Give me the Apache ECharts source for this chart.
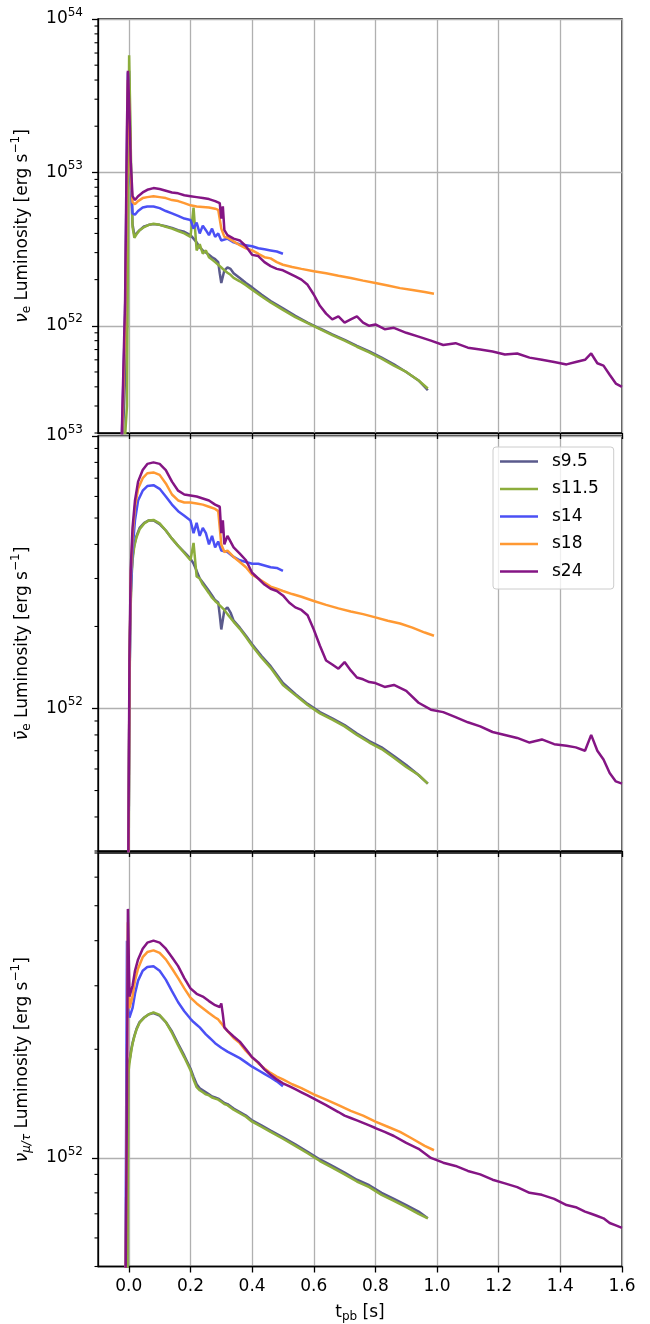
<!DOCTYPE html>
<html>
<head>
<meta charset="utf-8">
<title>Neutrino luminosities</title>
<script src="https://cdn.jsdelivr.net/npm/echarts@6/dist/echarts.min.js"></script>
<style>
  html, body { margin: 0; padding: 0; background: #fff; }
  #chart { width: 650px; height: 1324px; }
</style>
</head>
<body>
<div id="chart"></div>
<script>
// Luminosities are stored in units of 1e52 erg/s; times in s after bounce.
const UNIT = 1e52;

const modelNames = ['s9.5', 's11.5', 's14', 's18', 's24'];
const xTicks = [0, 0.2, 0.4, 0.6, 0.8, 1.0, 1.2, 1.4, 1.6];

// s9.5 and s11.5 share a sampling grid
const tLow = [-0.03, -0.006, -0.002, 0.001, 0.004, 0.008, 0.012, 0.018, 0.025, 0.035, 0.05, 0.065, 0.08, 0.1, 0.12, 0.14, 0.16, 0.18, 0.2, 0.21, 0.22, 0.23, 0.24, 0.25, 0.26, 0.27, 0.28, 0.29, 0.295, 0.3, 0.31, 0.32, 0.33, 0.34, 0.36, 0.38, 0.4, 0.43, 0.46, 0.5, 0.54, 0.58, 0.62, 0.66, 0.7, 0.74, 0.78, 0.82, 0.86, 0.9, 0.94, 0.97];
const nueS95  = [0.05, 1.0, 25, 46, 20, 8, 4.6, 3.9, 4.0, 4.2, 4.45, 4.55, 4.6, 4.55, 4.45, 4.35, 4.2, 4.1, 3.9, 3.7, 3.5, 3.25, 3.1, 3.0, 2.9, 2.8, 2.72, 2.6, 2.2, 1.9, 2.3, 2.4, 2.35, 2.2, 2.05, 1.9, 1.78, 1.6, 1.45, 1.3, 1.16, 1.05, 0.96, 0.88, 0.81, 0.74, 0.68, 0.62, 0.56, 0.5, 0.44, 0.38];
const anueS95 = [0.02, 0.03, 0.15, 0.8, 2.0, 3.0, 3.6, 4.0, 4.3, 4.6, 4.8, 4.9, 4.9, 4.75, 4.5, 4.2, 3.95, 3.75, 3.55, 3.4, 3.2, 3.0, 2.9, 2.8, 2.7, 2.6, 2.5, 2.45, 2.2, 1.95, 2.3, 2.35, 2.25, 2.1, 1.98, 1.85, 1.72, 1.56, 1.43, 1.24, 1.13, 1.04, 0.97, 0.92, 0.87, 0.81, 0.76, 0.72, 0.67, 0.62, 0.57, 0.53];
const nuxS95  = [0.05, 0.3, 1.8, 1.85, 1.9, 2.0, 2.08, 2.18, 2.28, 2.38, 2.45, 2.5, 2.52, 2.48, 2.38, 2.24, 2.07, 1.92, 1.77, 1.68, 1.6, 1.56, 1.54, 1.52, 1.5, 1.48, 1.47, 1.46, 1.45, 1.44, 1.42, 1.41, 1.39, 1.37, 1.34, 1.31, 1.27, 1.23, 1.19, 1.14, 1.09, 1.04, 0.99, 0.95, 0.91, 0.87, 0.84, 0.8, 0.77, 0.74, 0.71, 0.68];

const nueS115  = [0.05, 0.3, 8, 58, 28, 9, 4.4, 3.75, 3.95, 4.2, 4.4, 4.55, 4.62, 4.55, 4.42, 4.3, 4.15, 4.0, 3.8, 5.9, 3.1, 3.4, 2.95, 3.1, 2.8, 2.7, 2.6, 2.5, 2.45, 2.4, 2.3, 2.22, 2.15, 2.05, 1.95, 1.84, 1.72, 1.56, 1.42, 1.27, 1.14, 1.04, 0.95, 0.87, 0.8, 0.73, 0.67, 0.61, 0.55, 0.5, 0.44, 0.39];
const anueS115 = [0.02, 0.03, 0.12, 0.7, 1.9, 2.9, 3.5, 3.95, 4.25, 4.55, 4.78, 4.9, 4.92, 4.78, 4.5, 4.2, 3.95, 3.72, 3.5, 4.05, 3.05, 3.0, 2.85, 2.75, 2.65, 2.55, 2.48, 2.42, 2.4, 2.36, 2.3, 2.22, 2.15, 2.08, 1.96, 1.83, 1.7, 1.54, 1.41, 1.22, 1.12, 1.03, 0.96, 0.91, 0.86, 0.8, 0.75, 0.71, 0.66, 0.61, 0.57, 0.53];
const nuxS115  = [0.05, 0.2, 1.7, 1.8, 1.88, 1.98, 2.07, 2.17, 2.27, 2.37, 2.45, 2.5, 2.53, 2.49, 2.38, 2.22, 2.05, 1.9, 1.75, 1.65, 1.57, 1.54, 1.52, 1.5, 1.49, 1.47, 1.46, 1.45, 1.44, 1.43, 1.41, 1.4, 1.38, 1.36, 1.33, 1.3, 1.26, 1.22, 1.18, 1.13, 1.08, 1.03, 0.98, 0.94, 0.9, 0.86, 0.83, 0.79, 0.76, 0.73, 0.7, 0.68];

const tS14    = [-0.03, -0.012, -0.006, -0.003, 0.002, 0.006, 0.012, 0.02, 0.03, 0.045, 0.06, 0.08, 0.1, 0.12, 0.14, 0.16, 0.18, 0.2, 0.21, 0.22, 0.23, 0.24, 0.25, 0.26, 0.27, 0.28, 0.29, 0.3, 0.32, 0.34, 0.36, 0.38, 0.4, 0.42, 0.44, 0.46, 0.48, 0.5];
const nueS14  = [0.05, 1.2, 15, 45, 22, 9, 5.4, 5.3, 5.6, 5.9, 6.0, 6.0, 5.85, 5.6, 5.4, 5.2, 5.0, 4.9, 4.3, 4.7, 4.0, 4.5, 4.2, 3.9, 4.3, 3.8, 4.0, 3.6, 3.7, 3.5, 3.4, 3.35, 3.3, 3.2, 3.15, 3.1, 3.05, 2.95];
const anueS14 = [0.02, 0.02, 0.04, 0.1, 1.2, 2.6, 3.8, 4.9, 5.8, 6.3, 6.55, 6.6, 6.4, 6.0, 5.6, 5.3, 5.1, 4.9, 4.4, 4.8, 4.3, 4.6, 4.4, 4.0, 4.3, 3.9, 4.1, 3.8, 3.75, 3.6, 3.5, 3.45, 3.4, 3.4, 3.35, 3.3, 3.28, 3.2];
const nuxS14  = [0.05, 0.3, 4.0, 2.6, 2.45, 2.45, 2.6, 2.85, 3.1, 3.3, 3.38, 3.4, 3.3, 3.12, 2.9, 2.7, 2.55, 2.43, 2.38, 2.34, 2.3, 2.25, 2.2, 2.16, 2.12, 2.08, 2.05, 2.02, 1.97, 1.93, 1.89, 1.84, 1.79, 1.75, 1.71, 1.67, 1.63, 1.58];

const tS18    = [-0.03, -0.012, -0.006, -0.003, 0.002, 0.006, 0.012, 0.02, 0.03, 0.045, 0.06, 0.08, 0.1, 0.12, 0.14, 0.16, 0.18, 0.2, 0.22, 0.24, 0.26, 0.28, 0.29, 0.3, 0.31, 0.32, 0.34, 0.36, 0.38, 0.4, 0.42, 0.44, 0.46, 0.48, 0.5, 0.53, 0.56, 0.6, 0.64, 0.68, 0.72, 0.76, 0.8, 0.84, 0.88, 0.92, 0.96, 0.99];
const nueS18  = [0.05, 1.0, 10, 40, 25, 10, 6.4, 6.2, 6.5, 6.8, 6.9, 7.0, 6.9, 6.8, 6.6, 6.5, 6.3, 6.1, 6.0, 5.95, 5.9, 5.8, 5.7, 4.3, 3.8, 3.75, 3.55, 3.35, 3.2, 3.1, 2.95, 2.8, 2.75, 2.6, 2.5, 2.42, 2.35, 2.27, 2.2, 2.12, 2.05, 1.97, 1.9, 1.83, 1.76, 1.71, 1.66, 1.62];
const anueS18 = [0.02, 0.02, 0.04, 0.1, 1.3, 3.0, 4.3, 5.5, 6.4, 7.0, 7.3, 7.35, 7.2, 6.7, 6.1, 5.8, 5.7, 5.7, 5.65, 5.6, 5.5, 5.4, 5.3, 4.0, 3.75, 3.8, 3.6, 3.45, 3.3, 3.1, 3.0, 2.9, 2.8, 2.75, 2.7, 2.63, 2.57, 2.48, 2.4, 2.33, 2.27, 2.22, 2.16, 2.1, 2.05, 1.98, 1.9, 1.85];
const nuxS18  = [0.05, 0.3, 1.5, 4.5, 2.6, 2.6, 2.8, 3.1, 3.35, 3.6, 3.72, 3.76, 3.7, 3.55, 3.35, 3.15, 2.95, 2.78, 2.68, 2.6, 2.52, 2.45, 2.42, 2.36, 2.3, 2.25, 2.15, 2.08, 1.98, 1.9, 1.83, 1.77, 1.72, 1.68, 1.65, 1.6, 1.56, 1.5, 1.45, 1.4, 1.35, 1.31, 1.26, 1.22, 1.18, 1.13, 1.08, 1.05];

const tS24    = [-0.03, -0.012, -0.006, -0.003, 0.002, 0.006, 0.012, 0.02, 0.03, 0.045, 0.06, 0.08, 0.1, 0.12, 0.14, 0.16, 0.18, 0.2, 0.22, 0.24, 0.26, 0.28, 0.295, 0.3, 0.305, 0.31, 0.32, 0.34, 0.36, 0.38, 0.4, 0.42, 0.44, 0.46, 0.48, 0.5, 0.52, 0.54, 0.56, 0.58, 0.6, 0.62, 0.64, 0.66, 0.68, 0.7, 0.72, 0.74, 0.76, 0.78, 0.8, 0.83, 0.86, 0.9, 0.94, 0.98, 1.02, 1.06, 1.1, 1.14, 1.18, 1.22, 1.26, 1.3, 1.34, 1.38, 1.42, 1.45, 1.48, 1.5, 1.52, 1.54, 1.56, 1.58, 1.6];
const nueS24  = [0.05, 1.5, 20, 46, 25, 12, 7.0, 6.6, 7.0, 7.4, 7.7, 7.9, 7.8, 7.6, 7.4, 7.3, 7.1, 7.0, 6.9, 6.8, 6.7, 6.5, 6.3, 5.0, 6.0, 4.2, 3.9, 3.7, 3.6, 3.3, 2.9, 2.85, 2.6, 2.45, 2.35, 2.3, 2.2, 2.1, 2.0, 1.85, 1.6, 1.35, 1.2, 1.1, 1.15, 1.05, 1.1, 1.15, 1.05, 1.0, 1.02, 0.95, 0.97, 0.9, 0.85, 0.8, 0.75, 0.77, 0.72, 0.7, 0.68, 0.65, 0.66, 0.62, 0.6, 0.58, 0.56, 0.58, 0.6, 0.66, 0.57, 0.55, 0.48, 0.42, 0.4];
const anueS24 = [0.02, 0.02, 0.05, 0.15, 1.5, 3.2, 4.6, 5.8, 6.8, 7.5, 7.9, 8.0, 7.9, 7.5, 6.8, 6.3, 6.1, 6.05, 6.0, 5.9, 5.8, 5.6, 5.5, 4.4, 4.9, 4.0, 4.3, 3.9, 3.7, 3.5, 3.15, 3.0, 2.85, 2.75, 2.7, 2.6, 2.45, 2.35, 2.3, 2.2, 1.95, 1.7, 1.5, 1.45, 1.4, 1.48, 1.38, 1.3, 1.28, 1.25, 1.24, 1.2, 1.22, 1.16, 1.05, 0.99, 0.97, 0.93, 0.89, 0.86, 0.82, 0.8, 0.78, 0.75, 0.77, 0.74, 0.73, 0.72, 0.7, 0.8, 0.7, 0.65, 0.58, 0.54, 0.53];
const nuxS24  = [0.05, 0.3, 1.5, 4.9, 2.8, 2.8, 3.0, 3.3, 3.55, 3.8, 3.95, 4.0, 3.95, 3.8, 3.6, 3.4, 3.15, 2.95, 2.85, 2.8, 2.72, 2.65, 2.62, 2.68, 2.5, 2.3, 2.25, 2.17, 2.1, 2.0, 1.9, 1.84, 1.76, 1.7, 1.65, 1.61, 1.58, 1.55, 1.52, 1.49, 1.46, 1.43, 1.4, 1.37, 1.34, 1.31, 1.29, 1.27, 1.25, 1.23, 1.21, 1.18, 1.15, 1.1, 1.06, 1.0, 0.97, 0.95, 0.92, 0.9, 0.87, 0.85, 0.83, 0.8, 0.79, 0.77, 0.74, 0.73, 0.71, 0.7, 0.69, 0.68, 0.66, 0.65, 0.64];

const modelColors = ['#5a5a8c', '#8cad3c', '#4b50f5', '#ff9933', '#841584'];
const models = [
  { t: tLow, v: [nueS95, anueS95, nuxS95] },
  { t: tLow, v: [nueS115, anueS115, nuxS115] },
  { t: tS14, v: [nueS14, anueS14, nuxS14] },
  { t: tS18, v: [nueS18, anueS18, nuxS18] },
  { t: tS24, v: [nueS24, anueS24, nuxS24] }
];

// y ranges of the three panels (erg/s)
const yRanges = [[2e51, 1e54], [3e51, 1e53], [5e51, 7e52]];
const yNames = [
  '{nu|ν}{sub|e}{t| Luminosity [erg s}{sup|−1}{t|]}',
  '{nu|ν̄}{sub|e}{t| Luminosity [erg s}{sup|−1}{t|]}',
  '{nu|ν}{subi|μ/τ}{t| Luminosity [erg s}{sup|−1}{t|]}'
];

const FONT = 'DejaVu Sans';
const FS = 17;
const FS_SMALL = 12;
const GRID_COLOR = '#b0b0b0';
const textRich = {
  t:    { fontFamily: FONT, fontSize: FS, lineHeight: 20, color: '#000' },
  nu:   { fontFamily: FONT, fontSize: FS, lineHeight: 20, fontStyle: 'italic', color: '#000' },
  sub:  { fontFamily: FONT, fontSize: FS_SMALL, lineHeight: 12, padding: [9, 0, 0, 0], color: '#000' },
  subi: { fontFamily: FONT, fontSize: FS_SMALL, lineHeight: 12, padding: [9, 0, 0, 0], fontStyle: 'italic', color: '#000' },
  sup:  { fontFamily: FONT, fontSize: FS_SMALL, lineHeight: 12, padding: [0, 0, 13, 0], color: '#000' }
};

// decades inside [lo, hi]; edge values are pulled a hair inside the extent
function powersIn(lo, hi) {
  const out = [];
  for (let e = Math.ceil(Math.log10(lo) - 1e-9); e <= Math.floor(Math.log10(hi) + 1e-9); e++) {
    let v = parseFloat('1e' + e);
    if (v >= hi) v = hi * (1 - 1e-9);
    if (v <= lo) v = lo * (1 + 1e-9);
    out.push(v);
  }
  return out;
}
function minorIn(lo, hi) {
  const out = [];
  for (let e = Math.floor(Math.log10(lo)) - 1; e <= Math.ceil(Math.log10(hi)); e++) {
    for (let k = 2; k <= 9; k++) {
      const v = k * parseFloat('1e' + e);
      if (v >= lo * 0.9999 && v <= hi * 1.0001) out.push(v);
    }
  }
  return out;
}
function powLabel(v) {
  const e = Math.round(Math.log10(v));
  if (Math.abs(v / parseFloat('1e' + e) - 1) > 1e-6) return '';
  return '{t|10}{sup|' + e + '}';
}

const grids = [
  { left: 98, right: 28, top: 19, height: 414 },
  { left: 98, right: 28, top: 436, height: 415 },
  { left: 98, right: 28, top: 853, height: 414 }
].map(g => Object.assign(g, { show: true, borderColor: '#000', borderWidth: 1.3, backgroundColor: 'transparent' }));

const xAxes = [0, 1, 2].map(i => ({
  type: 'value', gridIndex: i, min: -0.1, max: 1.6, splitNumber: 8,
  name: i === 2 ? '{t|t}{sub|pb}{t| [s]}' : '',
  nameLocation: 'middle', nameGap: 36,
  nameTextStyle: { fontFamily: FONT, fontSize: FS, color: '#000', rich: textRich },
  axisLine: { show: true, onZero: false, lineStyle: { color: '#000', width: 1.3 } },
  axisTick: { show: true, length: 6, inside: false, customValues: xTicks, lineStyle: { color: '#000', width: 1.3 } },
  axisLabel: {
    show: i === 2, customValues: xTicks, margin: 12,
    fontFamily: FONT, fontSize: FS, color: '#000',
    formatter: v => v.toFixed(1)
  },
  splitLine: { show: true, lineStyle: { color: GRID_COLOR, width: 1.3 } }
}));

const yAxes = [0, 1, 2].map(i => {
  const majors = powersIn(yRanges[i][0], yRanges[i][1]);
  return {
    type: 'log', logBase: 10, gridIndex: i, min: yRanges[i][0], max: yRanges[i][1],
    name: yNames[i], nameLocation: 'middle', nameRotate: 90, nameGap: 58,
    nameTextStyle: { fontFamily: FONT, fontSize: FS, color: '#000', rich: textRich },
    axisLine: { show: true, onZero: false, lineStyle: { color: '#000', width: 1.3 } },
    axisTick: { show: true, length: 6, inside: false, customValues: majors, lineStyle: { color: '#000', width: 1.3 } },
    axisLabel: {
      show: true, customValues: majors, margin: 15, showMinLabel: true, showMaxLabel: true,
      hideOverlap: false,
      fontFamily: FONT, fontSize: FS, color: '#000', formatter: powLabel, rich: textRich
    },
    splitLine: { show: true, lineStyle: { color: GRID_COLOR, width: 1.3 } },
    minorTick: { show: false }
  };
});

const series = [];
for (let p = 0; p < 3; p++) {
  models.forEach((m, k) => {
    series.push({
      type: 'line', name: modelNames[k], xAxisIndex: p, yAxisIndex: p,
      data: m.t.map((t, j) => [t, m.v[p][j] * UNIT]),
      showSymbol: false, symbol: 'none', clip: true, smooth: false,
      lineStyle: { color: modelColors[k], width: 2.5 },
      itemStyle: { color: modelColors[k] },
      emphasis: { disabled: true }
    });
  });
  // minor log ticks on the left spine
  series.push({
    type: 'custom', name: 'minor' + p, xAxisIndex: p, yAxisIndex: p, silent: true,
    data: minorIn(yRanges[p][0], yRanges[p][1]).map(v => [-0.1, v]),
    encode: { x: 0, y: 1 },
    renderItem: (params, api) => {
      const pt = api.coord([api.value(0), api.value(1)]);
      return {
        type: 'line',
        shape: { x1: pt[0] - 3.5, y1: pt[1], x2: pt[0], y2: pt[1] },
        style: { stroke: '#000', lineWidth: 1.1 }
      };
    }
  });
}

const chart = echarts.init(document.getElementById('chart'), null, { renderer: 'canvas' });
chart.setOption({
  animation: false,
  backgroundColor: '#fff',
  grid: grids,
  xAxis: xAxes,
  yAxis: yAxes,
  legend: {
    data: modelNames,
    orient: 'vertical', left: 493, top: 447,
    icon: 'rect', itemWidth: 38, itemHeight: 2.5, itemGap: 10.5,
    padding: [6, 15, 9, 7],
    borderColor: '#cccccc', borderWidth: 1, borderRadius: 3,
    backgroundColor: 'rgba(255,255,255,0.8)',
    textStyle: { fontFamily: FONT, fontSize: FS, color: '#000', lineHeight: 17, padding: [0, 0, 0, 9] },
    selectedMode: false
  },
  series: series
});
</script>
</body>
</html>
